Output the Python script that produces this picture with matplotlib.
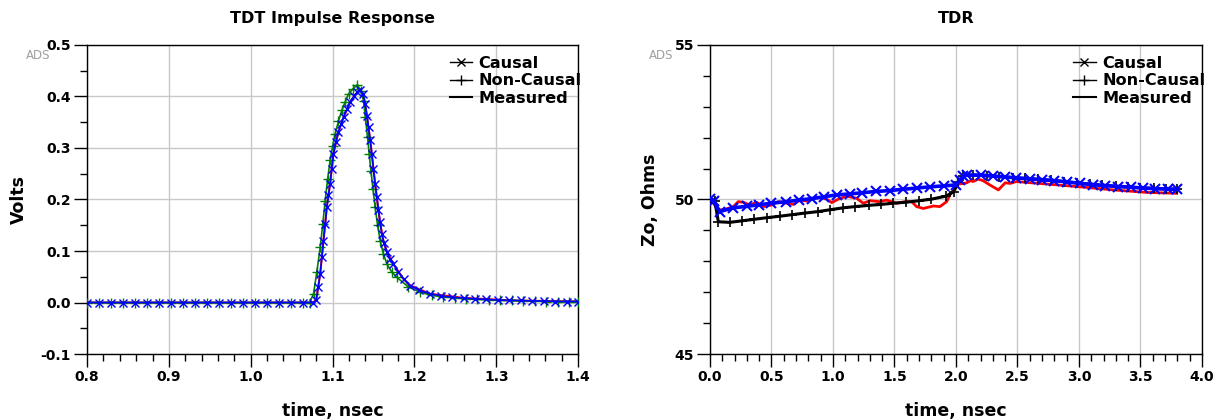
import matplotlib.pyplot as plt
from matplotlib.lines import Line2D
from matplotlib.ticker import MultipleLocator

# ---- TDT impulse response (left) ----
t_base = [0.800, 0.815, 0.829, 0.844, 0.859, 0.873, 0.888, 0.903, 0.917, 0.932,
          0.947, 0.961, 0.976, 0.991, 1.005, 1.020, 1.035, 1.049, 1.064]

imp_causal_t = t_base + [1.076, 1.0800, 1.0825, 1.0849, 1.0869, 1.0889, 1.0910, 1.0930, 1.0950,
    1.0970, 1.0990, 1.1011, 1.1040, 1.1072, 1.1103, 1.1134, 1.1175, 1.1215, 1.1260,
    1.1300, 1.1337, 1.1370, 1.1399, 1.1420, 1.1440, 1.1460, 1.1480, 1.1500, 1.1520,
    1.1541, 1.1561, 1.1582, 1.1602, 1.1630, 1.1663, 1.1700, 1.1744, 1.1800, 1.1870,
    1.1949, 1.2060, 1.2193, 1.2330, 1.2460, 1.2600, 1.2740, 1.2880, 1.3020, 1.3160,
    1.3300, 1.3440, 1.3580, 1.3720, 1.3860, 1.4000]
imp_causal_v = [0.0] * 19 + [0.0, 0.004, 0.030, 0.056, 0.088, 0.120, 0.152, 0.185, 0.208,
    0.230, 0.260, 0.289, 0.312, 0.331, 0.346, 0.360, 0.375, 0.389, 0.400,
    0.408, 0.413, 0.405, 0.386, 0.363, 0.340, 0.315, 0.289, 0.260, 0.230,
    0.205, 0.179, 0.156, 0.133, 0.115, 0.098, 0.085, 0.075, 0.060, 0.045,
    0.033, 0.024, 0.017, 0.013, 0.010, 0.009, 0.007, 0.006, 0.005, 0.004,
    0.004, 0.003, 0.003, 0.002, 0.002, 0.002]

imp_noncausal_t = t_base + [1.0720, 1.0767, 1.0808, 1.0849, 1.0880, 1.0910, 1.0940, 1.0970,
    1.1000, 1.1032, 1.1072, 1.1113, 1.1155, 1.1195, 1.1250, 1.1304, 1.1345, 1.1378,
    1.1400, 1.1427, 1.1448, 1.1468, 1.1494, 1.1520, 1.1550, 1.1582, 1.1620, 1.1663,
    1.1720, 1.1786, 1.1920, 1.2071, 1.2210, 1.2350, 1.2490, 1.2630, 1.2770, 1.2910,
    1.3050, 1.3190, 1.3330, 1.3470, 1.3610, 1.3750, 1.3890, 1.4000]
imp_noncausal_v = [0.0] * 19 + [0.0, 0.017, 0.060, 0.107, 0.152, 0.198, 0.240, 0.276,
    0.303, 0.328, 0.352, 0.373, 0.390, 0.405, 0.415, 0.423, 0.410, 0.392,
    0.360, 0.321, 0.288, 0.256, 0.220, 0.185, 0.150, 0.120, 0.095, 0.075,
    0.060, 0.049, 0.031, 0.020, 0.014, 0.011, 0.009, 0.007, 0.006, 0.005,
    0.004, 0.004, 0.003, 0.003, 0.002, 0.002, 0.002, 0.002]

imp_meas_t = [0.8, 1.076, 1.080, 1.085, 1.089, 1.093, 1.097, 1.101, 1.107, 1.113, 1.121,
    1.127, 1.134, 1.138, 1.142, 1.146, 1.150, 1.154, 1.158, 1.162, 1.167, 1.175,
    1.187, 1.195, 1.219, 1.26, 1.32, 1.4]
imp_meas_v = [0.0, 0.0, 0.005, 0.058, 0.122, 0.186, 0.232, 0.288, 0.330, 0.358, 0.387,
    0.402, 0.414, 0.400, 0.362, 0.314, 0.258, 0.204, 0.155, 0.120, 0.096, 0.073,
    0.045, 0.033, 0.017, 0.009, 0.004, 0.002]

# ---- TDR (right) ----
tdr_causal_t = [0.0, 0.03, 0.08, 0.19, 0.30, 0.40, 0.50, 0.62, 0.72, 0.83, 0.93, 1.03,
    1.14, 1.24, 1.35, 1.46, 1.57, 1.68, 1.79, 1.90, 2.00, 2.03, 2.06, 2.09, 2.20,
    2.30, 2.40, 2.49, 2.60, 2.70, 2.80, 2.90, 3.01, 3.11, 3.21, 3.32, 3.42, 3.52,
    3.62, 3.72, 3.80]
tdr_causal_z = [50.0, 49.95, 49.61, 49.73, 49.78, 49.83, 49.88, 49.93, 49.98, 50.03,
    50.09, 50.15, 50.18, 50.22, 50.26, 50.29, 50.33, 50.37, 50.41, 50.44, 50.47,
    50.62, 50.76, 50.79, 50.79, 50.76, 50.73, 50.70, 50.67, 50.64, 50.61, 50.57,
    50.52, 50.48, 50.45, 50.42, 50.40, 50.37, 50.35, 50.34, 50.33]

tdr_noncausal_t = [0.0, 0.04, 0.068, 0.16, 0.26, 0.36, 0.46, 0.57, 0.67, 0.77, 0.88,
    0.98, 1.08, 1.18, 1.29, 1.39, 1.49, 1.59, 1.70, 1.80, 1.92, 1.98, 2.02, 2.06,
    2.14, 2.25, 2.35, 2.46, 2.56, 2.67, 2.77, 2.88, 2.98, 3.09, 3.19, 3.30, 3.40,
    3.50, 3.61, 3.71, 3.80]
tdr_noncausal_z = [50.0, 49.95, 49.28, 49.26, 49.31, 49.36, 49.41, 49.46, 49.51, 49.56,
    49.61, 49.67, 49.73, 49.77, 49.81, 49.84, 49.88, 49.91, 49.96, 50.01, 50.11,
    50.25, 50.58, 50.77, 50.79, 50.77, 50.74, 50.71, 50.68, 50.65, 50.62, 50.58,
    50.54, 50.50, 50.46, 50.43, 50.40, 50.38, 50.36, 50.34, 50.33]

tdr_meas_t = [0.0, 0.027, 0.068, 0.122, 0.19, 0.23, 0.271, 0.325, 0.38, 0.433, 0.50,
    0.555, 0.623, 0.677, 0.732, 0.786, 0.84, 0.894, 0.949, 0.99, 1.043, 1.111,
    1.192, 1.246, 1.301, 1.382, 1.436, 1.518, 1.585, 1.64, 1.68, 1.734, 1.816,
    1.87, 1.924, 1.951, 1.992, 2.02, 2.06, 2.088, 2.117, 2.14, 2.18, 2.22, 2.276,
    2.345, 2.40, 2.44, 2.49, 2.74, 3.008, 3.28, 3.55, 3.794]
tdr_meas_z = [50.0, 49.88, 49.66, 49.68, 49.77, 49.93, 49.91, 49.82, 49.91, 49.77,
    49.82, 49.93, 49.88, 49.84, 49.98, 49.95, 50.04, 50.07, 50.01, 49.90, 50.01,
    50.11, 50.04, 49.88, 49.96, 49.93, 49.98, 49.88, 49.93, 49.93, 49.77, 49.71,
    49.79, 49.77, 49.93, 50.15, 50.36, 50.50, 50.52, 50.54, 50.61, 50.58, 50.66,
    50.61, 50.47, 50.31, 50.54, 50.52, 50.58, 50.50, 50.41, 50.31, 50.23, 50.20]

legend_labels = ['Causal', 'Non-Causal', 'Measured']

plt.rcParams['font.family'] = 'DejaVu Sans'
plt.rcParams['axes.unicode_minus'] = False

fig = plt.figure(figsize=(12.14, 4.2), dpi=100)
ax1 = fig.add_axes([0.0717, 0.157, 0.4045, 0.736])
ax2 = fig.add_axes([0.5848, 0.157, 0.4053, 0.736])

# left panel
ax1.plot(imp_meas_t, imp_meas_v, color='red', lw=1.5, zorder=2)
ax1.plot(imp_noncausal_t, imp_noncausal_v, color='green', lw=1.2, marker='+',
         ms=7, mew=1.0, zorder=3)
ax1.plot(imp_causal_t, imp_causal_v, color='blue', lw=1.2, marker='x',
         ms=6, mew=1.0, zorder=4)
ax1.set_xlim(0.8, 1.4)
ax1.set_ylim(-0.1, 0.5)
ax1.xaxis.set_major_locator(MultipleLocator(0.1))
ax1.xaxis.set_minor_locator(MultipleLocator(0.02))
ax1.yaxis.set_major_locator(MultipleLocator(0.1))
ax1.yaxis.set_minor_locator(MultipleLocator(0.05))
ax1.set_title('TDT Impulse Response', fontsize=11.5, fontweight='bold', pad=16)
ax1.set_ylabel('Volts', fontsize=12.5, fontweight='bold')
ax1.set_xlabel('time, nsec', fontsize=12.5, fontweight='bold')
ax1.yaxis.set_label_coords(-0.120, 0.5)
ax1.xaxis.set_label_coords(0.5, -0.155)

# right panel
ax2.plot(tdr_meas_t, tdr_meas_z, color='red', lw=2.0, zorder=2)
ax2.plot(tdr_noncausal_t, tdr_noncausal_z, color='black', lw=2.2, marker='+',
         ms=7, mew=1.2, zorder=3)
ax2.plot(tdr_causal_t, tdr_causal_z, color='blue', lw=2.6, marker='x',
         ms=7, mew=1.5, zorder=4)
ax2.set_xlim(0, 4)
ax2.set_ylim(45, 55)
ax2.xaxis.set_major_locator(MultipleLocator(0.5))
ax2.xaxis.set_minor_locator(MultipleLocator(0.1))
ax2.yaxis.set_major_locator(MultipleLocator(5))
ax2.yaxis.set_minor_locator(MultipleLocator(1))
ax2.set_title('TDR', fontsize=11.5, fontweight='bold', pad=16)
ax2.set_ylabel('Zo, Ohms', fontsize=12.5, fontweight='bold')
ax2.set_xlabel('time, nsec', fontsize=12.5, fontweight='bold')
ax2.yaxis.set_label_coords(-0.104, 0.5)
ax2.xaxis.set_label_coords(0.5, -0.155)

handles = [Line2D([], [], color='black', lw=1, marker='x', ms=6),
           Line2D([], [], color='black', lw=1, marker='+', ms=7),
           Line2D([], [], color='black', lw=1.5)]

for ax in (ax1, ax2):
    ax.grid(True, which='major', color='#c8c8c8', lw=1)
    ax.set_axisbelow(True)
    ax.tick_params(which='major', direction='out', length=9.5, width=1,
                   labelsize=10, pad=2)
    ax.tick_params(which='minor', direction='out', length=5, width=1)
    for s in ax.spines.values():
        s.set_color('black')
        s.set_linewidth(1)
    for lab in ax.get_xticklabels() + ax.get_yticklabels():
        lab.set_fontweight('bold')
    ax.legend(handles, legend_labels, loc='upper left', bbox_to_anchor=(0.725, 0.985),
              frameon=False, prop={'size': 11.6, 'weight': 'bold'},
              handlelength=1.4, handletextpad=0.4,
              labelspacing=0.15, borderaxespad=0)
    ax.text(-0.1, 0.965, 'ADS', transform=ax.transAxes, fontsize=8.5, color='#a0a0a0',
            ha='center', va='center')

fig.savefig('out.png', dpi=100)
